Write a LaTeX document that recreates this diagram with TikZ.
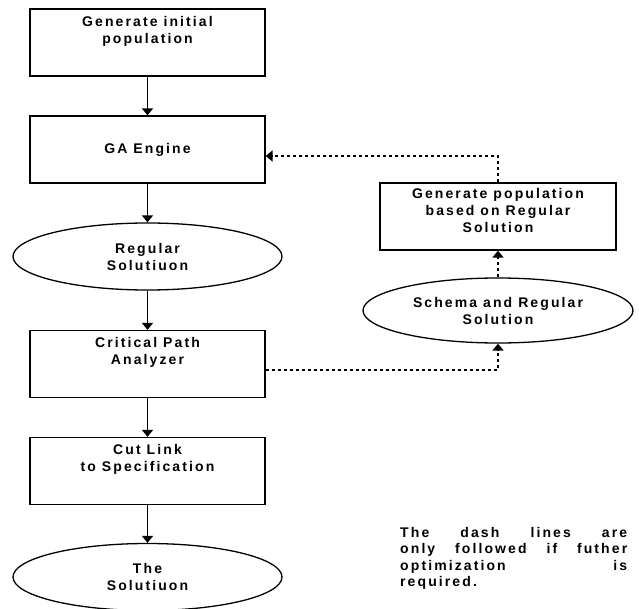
\documentclass[tikz,border=0pt]{standalone}
\usepackage{fontspec}
\setmainfont{Liberation Sans}[LetterSpace=15]
\usepackage{tikz}
\usetikzlibrary{arrows.meta,shapes.geometric}

\begin{document}
\begin{tikzpicture}[x=1pt,y=-1pt,
    font=\fontsize{14}{17}\selectfont\bfseries,
    proc/.style={draw,line width=1.3pt,minimum width=235pt,minimum height=67pt,inner sep=0pt},
    term/.style={draw,ellipse,line width=1.3pt,minimum width=269pt,minimum height=67pt,inner sep=0pt,align=center},
    toptxt/.style={anchor=north,inner sep=0pt,yshift=-7.5pt,align=center},
    flow/.style={line width=1.8pt,-{Triangle[width=11pt,length=7pt]}},
    back/.style={flow,line width=1.6pt,dash pattern=on 3pt off 3pt}]
        \useasboundingbox (0,0) rectangle (639,609);
        \node[proc,label={[toptxt]north:Generate initial\\population}] (init) at (147.5,42.5) {};
        \node[proc] (ga) at (147.5,149.5) {GA Engine};
        \node[term] (reg) at (147.5,256.5) {Regular\\Solutiuon};
        \node[proc,label={[toptxt]north:Critical Path\\Analyzer}] (cpa) at (147.5,364) {};
        \node[proc,label={[toptxt]north:Cut Link\\to Specification}] (cut) at (147.5,471) {};
        \node[term] (sol) at (147.5,577) {The\\Solutiuon};
        \node[proc,minimum width=236pt,
          label={[toptxt,yshift=2pt]north:Generate population\\based on Regular\\Solution}] (genpop) at (498,216.5) {};
        \node[term,minimum width=270pt,minimum height=65pt] (schema) at (498,310.5) {Schema and Regular\\Solution};
        \def\nw{227pt}
        \node[anchor=north west,inner sep=0pt,align=left,font=\fontsize{14}{16.5}\selectfont\bfseries] (note) at (400,527)
          {\makebox[\nw][s]{The dash lines are}\\\makebox[\nw][s]{only followed if futher}\\
           \makebox[\nw][s]{optimization is}\\required.};
        \foreach \a/\b in {init/ga,ga/reg,reg/cpa,cpa/cut,cut/sol}
          \draw[flow] (\a) -- (\b);
        \coordinate (uptop) at (498,156);
        \coordinate (upbot) at (498,370);
        \draw[back] (genpop.north) -- (uptop) -- (uptop -| ga.east);
        \draw[back] (upbot -| cpa.east) -- (upbot) -- (schema.south);
        \draw[back] (schema) -- (genpop);
      \end{tikzpicture}
\end{document}
